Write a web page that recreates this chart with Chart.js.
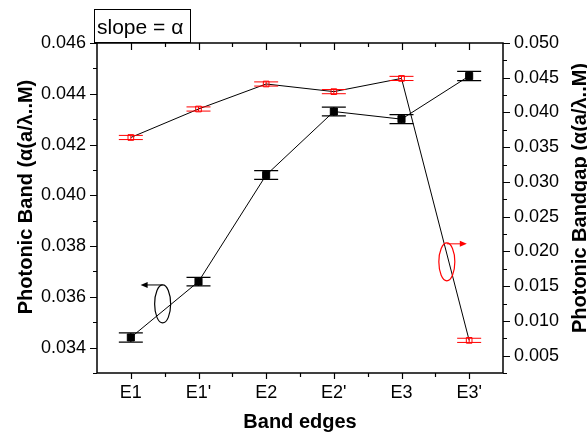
<!DOCTYPE html>
<html>
<head>
<meta charset="utf-8">
<script src="https://cdn.jsdelivr.net/npm/chart.js@4/dist/chart.umd.min.js"></script>
<style>
html,body{margin:0;padding:0;background:#fff;}
#c{display:block;}
</style>
</head>
<body>
<canvas id="c" width="587" height="438"></canvas>
<script>
const categories = ["E1", "E1'", "E2", "E2'", "E3", "E3'"];
const bandValues = [0.0344, 0.0366, 0.0408, 0.0433, 0.0430, 0.0447];
const bandErrors = [0.00018, 0.00017, 0.00017, 0.00017, 0.00018, 0.00018];
const gapValues = [0.0364, 0.0405, 0.0441, 0.0430, 0.0449, 0.0072];
const gapErrors = [0.0003, 0.0003, 0.0003, 0.0003, 0.0003, 0.0003];
const leftTicks = [0.034, 0.036, 0.038, 0.040, 0.042, 0.044, 0.046];
const leftMinor = [0.033, 0.035, 0.037, 0.039, 0.041, 0.043, 0.045];
const rightTicks = [0.005, 0.010, 0.015, 0.020, 0.025, 0.030, 0.035, 0.040, 0.045, 0.050];
const rightMinor = [0.0025, 0.0075, 0.0125, 0.0175, 0.0225, 0.0275, 0.0325, 0.0375, 0.0425, 0.0475];

const FONT = "'Liberation Sans', Arial, sans-serif";

function drawArrow(ctx, x1, y1, x2, y2, color) {
  ctx.save();
  ctx.strokeStyle = color; ctx.fillStyle = color; ctx.lineWidth = 1;
  const ang = Math.atan2(y2 - y1, x2 - x1);
  const hl = 7, hw = 3;
  ctx.beginPath(); ctx.moveTo(x1, y1);
  ctx.lineTo(x2 - Math.cos(ang) * hl * 0.8, y2 - Math.sin(ang) * hl * 0.8); ctx.stroke();
  ctx.beginPath();
  ctx.moveTo(x2, y2);
  ctx.lineTo(x2 - Math.cos(ang) * hl + Math.sin(ang) * hw, y2 - Math.sin(ang) * hl - Math.cos(ang) * hw);
  ctx.lineTo(x2 - Math.cos(ang) * hl - Math.sin(ang) * hw, y2 - Math.sin(ang) * hl + Math.cos(ang) * hw);
  ctx.closePath(); ctx.fill();
  ctx.restore();
}

const decor = {
  id: 'decor',
  beforeDatasetsDraw(chart) {
    const ctx = chart.ctx, a = chart.chartArea;
    const x = chart.scales.x, y = chart.scales.y, y2 = chart.scales.y2;
    ctx.save();
    ctx.strokeStyle = '#000';
    ctx.lineWidth = 1.5;
    ctx.strokeRect(a.left, a.top, a.right - a.left, a.bottom - a.top);
    ctx.lineWidth = 1.2;
    ctx.beginPath();
    leftTicks.forEach(v => { const p = Math.round(y.getPixelForValue(v)) + 0.5; ctx.moveTo(a.left - 7, p); ctx.lineTo(a.left, p); });
    leftMinor.forEach(v => { const p = Math.round(y.getPixelForValue(v)) + 0.5; ctx.moveTo(a.left - 4, p); ctx.lineTo(a.left, p); });
    rightTicks.forEach(v => { const p = Math.round(y2.getPixelForValue(v)) + 0.5; ctx.moveTo(a.right, p); ctx.lineTo(a.right + 7, p); });
    rightMinor.forEach(v => { const p = Math.round(y2.getPixelForValue(v)) + 0.5; ctx.moveTo(a.right, p); ctx.lineTo(a.right + 4, p); });
    categories.forEach((c, i) => {
      const p = Math.round(x.getPixelForValue(i)) + 0.5;
      ctx.moveTo(p, a.bottom); ctx.lineTo(p, a.bottom + 6);
      ctx.moveTo(p, a.top); ctx.lineTo(p, a.top + 7);
      if (i < categories.length - 1) {
        const m = Math.round((x.getPixelForValue(i) + x.getPixelForValue(i + 1)) / 2) + 0.5;
        ctx.moveTo(m, a.bottom); ctx.lineTo(m, a.bottom + 4);
        ctx.moveTo(m, a.top); ctx.lineTo(m, a.top + 4);
      }
    });
    ctx.stroke();
    ctx.restore();
  },
  afterDatasetsDraw(chart) {
    const ctx = chart.ctx;
    const x = chart.scales.x, y = chart.scales.y, y2 = chart.scales.y2;
    ctx.save();
    ctx.strokeStyle = '#000'; ctx.lineWidth = 1.2;
    bandValues.forEach((v, i) => {
      const px = x.getPixelForValue(i);
      const t = y.getPixelForValue(v + bandErrors[i]), b = y.getPixelForValue(v - bandErrors[i]);
      ctx.beginPath();
      ctx.moveTo(px, t); ctx.lineTo(px, b);
      ctx.moveTo(px - 12, t); ctx.lineTo(px + 12, t);
      ctx.moveTo(px - 12, b); ctx.lineTo(px + 12, b);
      ctx.stroke();
    });
    ctx.strokeStyle = '#ff0000'; ctx.lineWidth = 1;
    gapValues.forEach((v, i) => {
      const px = x.getPixelForValue(i);
      const t = y2.getPixelForValue(v + gapErrors[i]), b = y2.getPixelForValue(v - gapErrors[i]);
      ctx.beginPath();
      ctx.moveTo(px, t); ctx.lineTo(px, b);
      ctx.moveTo(px - 12, t); ctx.lineTo(px + 12, t);
      ctx.moveTo(px - 12, b); ctx.lineTo(px + 12, b);
      ctx.stroke();
    });
    ctx.strokeStyle = '#000'; ctx.lineWidth = 1.2;
    const ex1 = x.getPixelForValue(0.47), ey1 = y.getPixelForValue(0.03572);
    ctx.beginPath(); ctx.ellipse(ex1, ey1, 8, 19, 0, 0, Math.PI * 2); ctx.stroke();
    drawArrow(ctx, ex1, ey1 - 19, ex1 - 22, ey1 - 19, '#000');
    ctx.strokeStyle = '#ff0000';
    const ex2 = x.getPixelForValue(4.67), ey2 = y2.getPixelForValue(0.0185);
    ctx.beginPath(); ctx.ellipse(ex2, ey2, 8, 19, 0, 0, Math.PI * 2); ctx.stroke();
    drawArrow(ctx, ex2, ey2 - 18, ex2 + 20, ey2 - 18, '#ff0000');
    ctx.restore();
  },
  afterDraw(chart) {
    const ctx = chart.ctx, a = chart.chartArea;
    ctx.save();
    ctx.fillStyle = '#000';
    ctx.font = 'bold 20px ' + FONT;
    ctx.textAlign = 'center'; ctx.textBaseline = 'alphabetic';
    ctx.fillText('Band edges', (a.left + a.right) / 2, 428);
    ctx.save();
    ctx.translate(32, 197); ctx.rotate(-Math.PI / 2);
    ctx.fillText('Photonic Band (\u03b1(a/\u03bb..M)', 0, 0);
    ctx.restore();
    ctx.save();
    ctx.translate(586, 198); ctx.rotate(-Math.PI / 2);
    ctx.fillText('Photonic Bandgap (\u03b1(a/\u03bb..M)', 0, 0);
    ctx.restore();
    ctx.fillStyle = '#fff';
    ctx.fillRect(94.5, 9.5, 96, 33);
    ctx.strokeStyle = '#000'; ctx.lineWidth = 1;
    ctx.strokeRect(94.5, 9.5, 96, 33);
    ctx.fillStyle = '#000';
    ctx.font = '21px ' + FONT;
    ctx.textAlign = 'left';
    ctx.fillText('slope = \u03b1', 97, 34);
    ctx.restore();
  }
};

new Chart(document.getElementById('c'), {
  type: 'line',
  data: {
    labels: categories,
    datasets: [
      {
        label: 'Photonic Band',
        data: bandValues,
        yAxisID: 'y',
        borderColor: '#000', borderWidth: 1,
        pointStyle: 'rect', pointRadius: 5,
        pointBackgroundColor: '#000', pointBorderColor: '#000', pointBorderWidth: 1,
        tension: 0, fill: false
      },
      {
        label: 'Photonic Bandgap',
        data: gapValues,
        yAxisID: 'y2',
        borderColor: '#000', borderWidth: 1,
        pointStyle: 'rect', pointRadius: 4,
        pointBackgroundColor: 'rgba(255,255,255,0)', pointBorderColor: '#ff0000', pointBorderWidth: 1,
        tension: 0, fill: false
      }
    ]
  },
  options: {
    responsive: false,
    animation: false,
    devicePixelRatio: 1,
    layout: { padding: { top: 43, left: 0, right: 0, bottom: 0 } },
    plugins: { legend: { display: false }, tooltip: { enabled: false }, title: { display: false } },
    scales: {
      x: {
        type: 'category', offset: true,
        grid: { display: false, drawTicks: false }, border: { display: false },
        ticks: { color: '#000', font: { family: FONT, size: 18 }, padding: 9, maxRotation: 0 },
        afterFit(s) { s.height = 65; }
      },
      y: {
        type: 'linear', position: 'left', min: 0.033, max: 0.046,
        grid: { display: false, drawTicks: false }, border: { display: false },
        afterBuildTicks(s) { s.ticks = leftTicks.map(v => ({ value: v })); },
        ticks: { color: '#000', font: { family: FONT, size: 18 }, padding: 11, callback: v => Number(v).toFixed(3) },
        afterFit(s) { s.width = 97; }
      },
      y2: {
        type: 'linear', position: 'right', min: 0.0025, max: 0.050,
        grid: { display: false, drawTicks: false }, border: { display: false },
        afterBuildTicks(s) { s.ticks = rightTicks.map(v => ({ value: v })); },
        ticks: { color: '#000', font: { family: FONT, size: 18 }, padding: 11, callback: v => Number(v).toFixed(3) },
        afterFit(s) { s.width = 84; }
      }
    }
  },
  plugins: [decor]
});
</script>
</body>
</html>
